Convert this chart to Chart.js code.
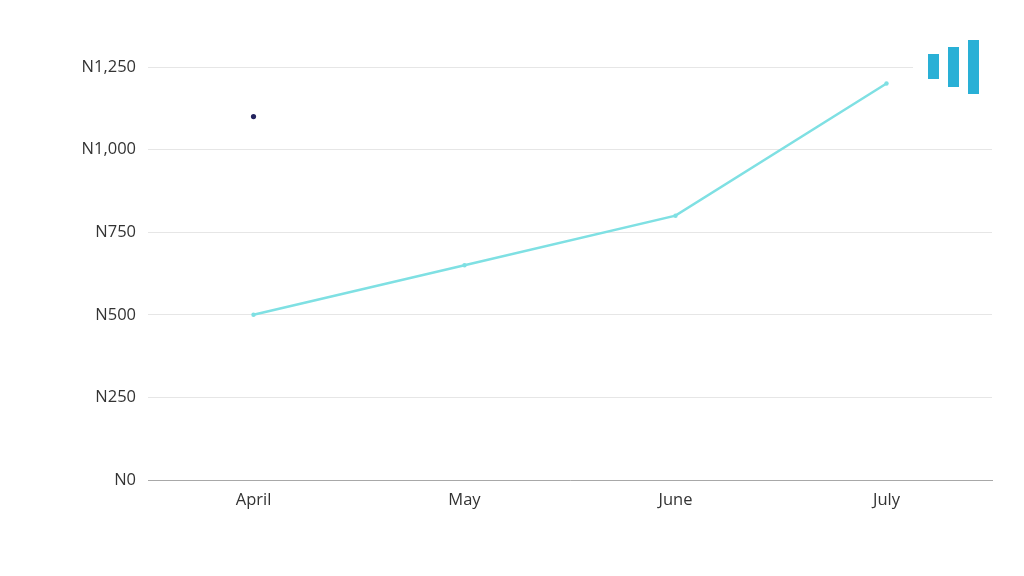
<!DOCTYPE html>
<html><head><meta charset="utf-8">
<script src="https://cdn.jsdelivr.net/npm/chart.js@4"></script>
<style>
html,body{margin:0;padding:0;background:#fff;}
#wrap{position:relative;width:1024px;height:576px;}
#logo{position:absolute;left:913px;top:30px;width:82px;height:72px;background:#fff;}
.b{position:absolute;background:#29b0d6;width:11px;}
</style></head><body>
<div id="wrap"><canvas id="c" width="1024" height="576"></canvas>
<div id="logo"><div class="b" style="left:15px;top:24px;height:25px"></div><div class="b" style="left:35px;top:17px;height:40px"></div><div class="b" style="left:55px;top:10px;height:54px"></div></div>
</div>
<script>
const categories = ["April","May","June","July"];
const lineValues = [500, 650, 800, 1200];
const dotValues = [1100, null, null, null];
const yTicks = [0, 250, 500, 750, 1000, 1250];

new Chart(document.getElementById('c'), {
  type: 'line',
  data: {
    labels: categories,
    datasets: [
      {data: lineValues, borderColor: '#7fe0e3', backgroundColor: '#7fe0e3', borderWidth: 2.5, pointRadius: 2.2, pointHoverRadius: 2.2, tension: 0, pointBorderWidth: 0},
      {data: dotValues, borderColor: '#23235e', backgroundColor: '#23235e', showLine: false, pointRadius: 2.6, pointBorderWidth: 0}
    ]
  },
  options: {
    responsive: false, animation: false,
    layout: {padding: {left: 0, right: 32, top: 67, bottom: 0}},
    plugins: {legend: {display: false}, tooltip: {enabled: false}},
    scales: {
      x: {
        offset: true,
        grid: {display: false, drawTicks: false},
        border: {display: true, color: '#a8a8a8', width: 1},
        ticks: {color: '#333', font: {family: 'Open Sans', size: 16.5}, padding: 10},
        afterFit: s => { s.height = 96; }
      },
      y: {
        min: 0, max: 1250,
        afterBuildTicks: s => { s.ticks = yTicks.map(v => ({value: v})); },
        grid: {color: '#e6e6e6', drawTicks: false, lineWidth: 1},
        border: {display: false},
        ticks: {color: '#333', font: {family: 'Open Sans', size: 16.5}, padding: 12,
          callback: v => 'N' + v.toLocaleString('en-US')},
        afterFit: s => { s.width = 148; }
      }
    }
  }
});
</script>
</body></html>
